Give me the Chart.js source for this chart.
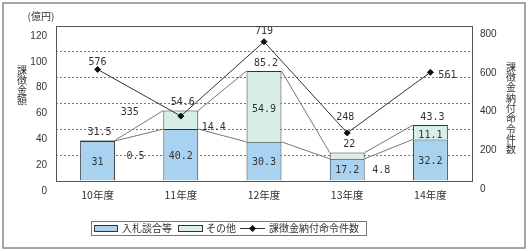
<!DOCTYPE html>
<html>
<head>
<meta charset="utf-8">
<script src="https://cdn.jsdelivr.net/npm/chart.js@4"></script>
<style>
  html, body { margin: 0; padding: 0; background: #fff; }
  #wrap { width: 532px; height: 251px; position: relative; }
</style>
</head>
<body>
<div id="wrap"><canvas id="chart"></canvas></div>
<script>
var years = ['10年度', '11年度', '12年度', '13年度', '14年度'];
var bidRigging = [31, 40.2, 30.3, 17.2, 32.2];   // 入札談合等
var others = [0.5, 14.4, 54.9, 4.8, 11.1];       // その他
var totals = [31.5, 54.6, 85.2, 22, 43.3];
var orderCounts = [576, 335, 719, 248, 561];     // 課徴金納付命令件数
var amountTicks = [0, 20, 40, 60, 80, 100, 120];
var countTicks = [0, 200, 400, 600, 800];

var JP = '"Noto Sans CJK JP", sans-serif';
var NUM = '"Liberation Sans", Arial, sans-serif';
var MONO = '"DejaVu Sans Mono", monospace';

// label nudges for the data labels (px)
var countLabelShift = [[0, -7], [-51, -4], [0, -10], [-2, -16], [17, 3]];
var otherShift = [[38, 15], [33, -2], null, [34, 12], null];  // null = inside the bar

var decor = {
  id: 'decor',
  beforeDraw: function (chart) {
    var c = chart.ctx;
    c.save();
    c.fillStyle = '#fff';
    c.fillRect(0, 0, chart.width, chart.height);
    c.restore();
  },
  afterDatasetsDraw: function (chart) {
    var c = chart.ctx;
    var a = chart.chartArea;
    var y = chart.scales.y;
    var m0 = chart.getDatasetMeta(0);
    var m2 = chart.getDatasetMeta(2);
    c.save();

    // series lines between bars
    c.strokeStyle = '#555';
    c.lineWidth = 0.8;
    for (var i = 0; i < years.length - 1; i++) {
      var b = m0.data[i], n = m0.data[i + 1];
      [bidRigging, totals].forEach(function (arr) {
        c.beginPath();
        c.moveTo(b.x + b.width / 2, y.getPixelForValue(arr[i]));
        c.lineTo(n.x - n.width / 2, y.getPixelForValue(arr[i + 1]));
        c.stroke();
      });
    }

    // plot border
    c.strokeStyle = '#555';
    c.lineWidth = 1;
    c.strokeRect(a.left + 0.5, a.top + 0.5, a.right - a.left, a.bottom - a.top);

    // data labels
    c.fillStyle = '#333';
    c.font = '10px ' + MONO;
    c.textAlign = 'center';
    c.textBaseline = 'middle';
    for (var j = 0; j < years.length; j++) {
      var bar = m0.data[j];
      var yb = y.getPixelForValue(bidRigging[j]);
      var yt = y.getPixelForValue(totals[j]);
      c.fillText(String(bidRigging[j]), bar.x, (yb + y.getPixelForValue(0)) / 2 + 1);
      var s = otherShift[j];
      if (s) {
        c.fillText(String(others[j]), bar.x + s[0], yb + s[1]);
      } else {
        c.fillText(String(others[j]), bar.x, (yb + yt) / 2 + 3);
      }
      c.fillText(String(totals[j]), bar.x + 2, yt - 8);
      var p = m2.data[j];
      c.fillText(String(orderCounts[j]), p.x + countLabelShift[j][0], p.y + countLabelShift[j][1]);
    }

    c.restore();
  },
  afterDraw: function (chart) {
    var c = chart.ctx;
    c.save();
    // outer frame
    c.strokeStyle = '#888';
    c.lineWidth = 1.5;
    c.strokeRect(3, 3, 522, 245);

    c.fillStyle = '#333';
    c.textAlign = 'center';
    c.textBaseline = 'middle';
    c.font = '10px ' + JP;
    c.fillText('(億円)', 41, 16);
    var t1 = '課徴金額';
    for (var i = 0; i < t1.length; i++) c.fillText(t1[i], 22, 70 + i * 10);
    var t2 = '課徴金納付命令件数';
    for (var k = 0; k < t2.length; k++) c.fillText(t2[k], 511, 67 + k * 10.3);

    // legend
    c.strokeStyle = '#777';
    c.lineWidth = 1;
    c.strokeRect(91.5, 221.5, 275, 14);
    c.textAlign = 'left';
    c.fillStyle = '#a9d2f0';
    c.fillRect(94, 225, 23, 6);
    c.strokeStyle = '#333';
    c.strokeRect(94.5, 225.5, 23, 6);
    c.fillStyle = '#333';
    c.fillText('入札談合等', 122, 228.5);
    c.fillStyle = '#d8efe8';
    c.fillRect(178, 225, 24, 6);
    c.strokeRect(178.5, 225.5, 24, 6);
    c.fillStyle = '#333';
    c.fillText('その他', 206, 228.5);
    c.beginPath();
    c.moveTo(240, 228.5);
    c.lineTo(265, 228.5);
    c.stroke();
    c.beginPath();
    c.moveTo(252.5, 225);
    c.lineTo(256, 228.5);
    c.lineTo(252.5, 232);
    c.lineTo(249, 228.5);
    c.closePath();
    c.fillStyle = '#111';
    c.fill();
    c.fillStyle = '#333';
    c.fillText('課徴金納付命令件数', 269, 228.5);
    c.restore();
  }
};

new Chart(document.getElementById('chart'), {
  type: 'bar',
  data: {
    labels: years,
    datasets: [
      {
        label: '入札談合等',
        data: bidRigging,
        backgroundColor: '#a9d2f0',
        borderColor: '#333',
        borderWidth: 1,
        stack: 's',
        order: 2,
        categoryPercentage: 1,
        barPercentage: 0.42
      },
      {
        label: 'その他',
        data: others,
        backgroundColor: '#d8efe8',
        borderColor: '#333',
        borderWidth: 1,
        stack: 's',
        order: 2,
        categoryPercentage: 1,
        barPercentage: 0.42
      },
      {
        type: 'line',
        label: '課徴金納付命令件数',
        data: orderCounts,
        yAxisID: 'y2',
        borderColor: '#333',
        borderWidth: 1,
        pointStyle: 'rectRot',
        pointRadius: 3,
        pointBackgroundColor: '#111',
        pointBorderColor: '#111',
        order: 0
      }
    ]
  },
  options: {
    responsive: true,
    maintainAspectRatio: false,
    animation: false,
    layout: { padding: { top: 26, left: 0, right: 0, bottom: 0 } },
    plugins: {
      legend: { display: false },
      tooltip: { enabled: false }
    },
    scales: {
      x: {
        stacked: true,
        grid: { display: false, drawTicks: false },
        border: { display: false },
        ticks: { color: '#333', font: { size: 10.5, family: JP }, padding: 8 },
        afterFit: function (s) { s.height = 70; }
      },
      y: {
        stacked: true,
        min: 0,
        max: 120,
        afterBuildTicks: function (s) { s.ticks = amountTicks.map(function (v) { return { value: v }; }); },
        grid: { color: '#777', drawTicks: false },
        border: { display: false, dash: [2, 2] },
        ticks: { color: '#333', font: { size: 10, family: NUM }, padding: 9, labelOffset: 10 },
        afterFit: function (s) { s.width = 56; }
      },
      y2: {
        position: 'right',
        min: 0,
        max: 800,
        afterBuildTicks: function (s) { s.ticks = countTicks.map(function (v) { return { value: v }; }); },
        grid: { display: false, drawTicks: false },
        border: { display: false },
        ticks: { color: '#333', font: { size: 10, family: NUM }, padding: 8, labelOffset: 8 },
        afterFit: function (s) { s.width = 60; }
      }
    }
  },
  plugins: [decor]
});
</script>
</body>
</html>
